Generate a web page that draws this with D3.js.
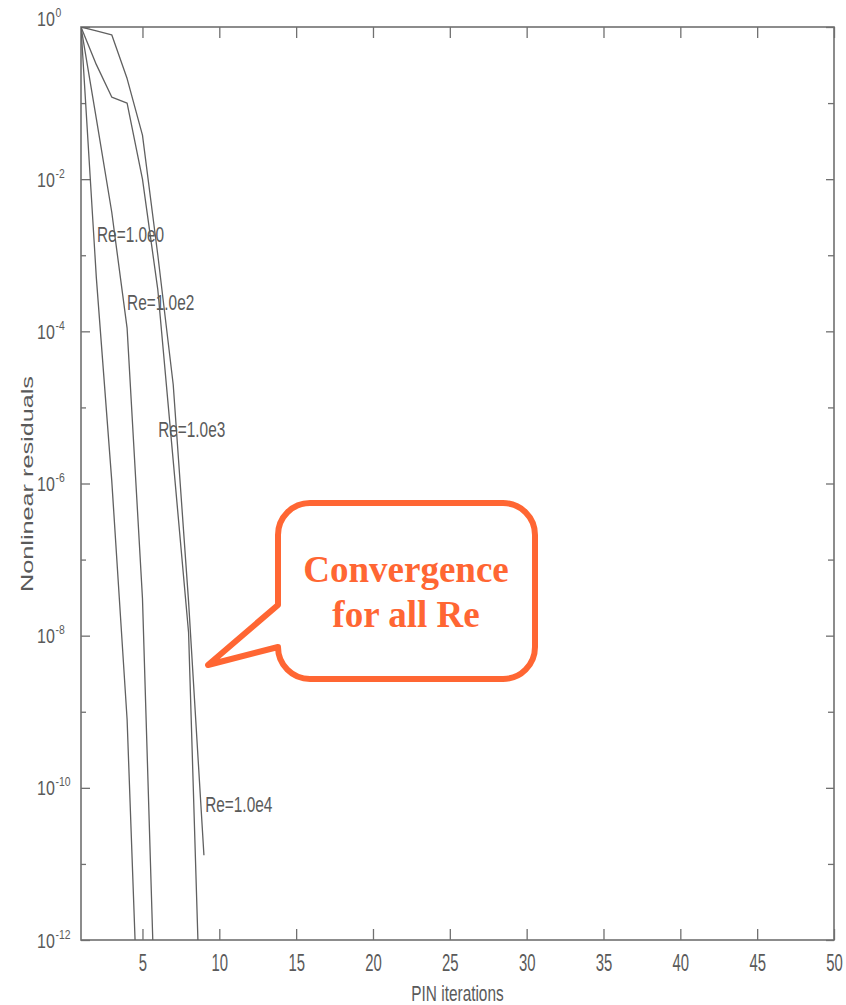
<!DOCTYPE html>
<html><head><meta charset="utf-8">
<script src="https://cdn.jsdelivr.net/npm/d3@7"></script>
<style>body{margin:0;background:#fff;} svg{display:block}</style>
</head><body>
<svg id="chart" width="846" height="1005"></svg>
<script>
// ---------------- data ----------------
const seriesNames = ["Re=1.0e0", "Re=1.0e2", "Re=1.0e3", "Re=1.0e4"];
const iterRe1e0 = [1, 2, 3, 4, 5];
const resRe1e0  = [1, 5.0e-4, 1.1e-6, 7.9e-10, 2.0e-15];
const iterRe1e2 = [1, 2, 3, 4, 5, 6];
const resRe1e2  = [1, 6.2e-2, 3.7e-3, 1.1e-4, 3.1e-8, 6.3e-15];
const iterRe1e3 = [1, 2, 3, 4, 5, 6, 7, 8, 9];
const resRe1e3  = [1, 3.2e-1, 1.2e-1, 1.0e-1, 1.0e-2, 3.5e-4, 2.0e-6, 1.1e-8, 2.5e-15];
const iterRe1e4 = [1, 2, 3, 4, 5, 6, 7, 8, 9];
const resRe1e4  = [1, 0.89, 0.79, 0.21, 3.8e-2, 1.0e-3, 2.0e-5, 2.8e-8, 1.3e-11];
// label anchors (iteration, residual)
const labelIter = [2.04, 4.0, 6.02, 9.08];
const labelRes  = [1.5e-3, 1.9e-4, 4.1e-6, 4.8e-11];
// ticks
const xTicks = [5, 10, 15, 20, 25, 30, 35, 40, 45, 50];
const yMajorTicks = [1e0, 1e-2, 1e-4, 1e-6, 1e-8, 1e-10, 1e-12];
const yMajorExp   = ["0", "-2", "-4", "-6", "-8", "-10", "-12"];
const yMinorTicks = [1e-1, 1e-3, 1e-5, 1e-7, 1e-9, 1e-11];
const xTitle = "PIN iterations";
const yTitle = "Nonlinear residuals";
const calloutLines = ["Convergence", "for all Re"];

// ---------------- layout ----------------
const W = 846, H = 1005;
const m = {left: 81, top: 27, right: 12, bottom: 65};
const iw = W - m.left - m.right, ih = H - m.top - m.bottom;
const axisColor = "#707070", lineColor = "#606060", textColor = "#5a5a5a";
const font = "'Liberation Sans', Arial, Helvetica, sans-serif";

const svg = d3.select("#chart");
const g = svg.append("g").attr("transform", `translate(${m.left},${m.top})`);

const x = d3.scaleLinear().domain([1, 50]).range([0, iw]);
const y = d3.scaleLog().domain([1e-12, 1]).range([ih, 0]);

svg.append("defs").append("clipPath").attr("id", "plotclip")
  .append("rect").attr("x", 0).attr("y", 0).attr("width", iw).attr("height", ih);

// ---------- axes ----------
function styleAxis(sel) {
  sel.select(".domain").remove();
  sel.selectAll(".tick line").attr("stroke", axisColor).attr("stroke-width", 1.3);
}
// bottom
const gx = g.append("g").attr("transform", `translate(0,${ih})`)
  .call(d3.axisBottom(x).tickValues(xTicks).tickSizeInner(-11).tickSizeOuter(0).tickPadding(15));
styleAxis(gx);
gx.selectAll(".tick text")
  .attr("fill", textColor).attr("font-family", font).attr("font-size", 24)
  .attr("transform", "scale(0.62,1)").attr("y", 14).attr("dy", "0.71em");
// top
const gt = g.append("g")
  .call(d3.axisTop(x).tickValues(xTicks).tickSizeInner(-11).tickSizeOuter(0).tickFormat(""));
styleAxis(gt);
// left major
const gy = g.append("g")
  .call(d3.axisLeft(y).tickValues(yMajorTicks).tickSizeInner(-9).tickSizeOuter(0).tickFormat(""));
styleAxis(gy);
gy.selectAll(".tick text").each(function(d, i) {
  const t = d3.select(this);
  const up = i === 0 ? -9 : 0;
  t.text(null).attr("x", null).attr("dy", null)
   .attr("text-anchor", "start").attr("fill", textColor).attr("font-family", font)
   .attr("transform", `translate(-44,${7 + up}) scale(0.8,1)`);
  t.append("tspan").attr("font-size", 20).text("10");
  t.append("tspan").attr("font-size", 13).attr("dy", -9).attr("dx", 1).text(yMajorExp[i]);
});
// left minor
const gym = g.append("g")
  .call(d3.axisLeft(y).tickValues(yMinorTicks).tickSizeInner(-5).tickSizeOuter(0).tickFormat(""));
styleAxis(gym);
// right major/minor
const gr = g.append("g").attr("transform", `translate(${iw},0)`)
  .call(d3.axisRight(y).tickValues(yMajorTicks).tickSizeInner(-8).tickSizeOuter(0).tickFormat(""));
styleAxis(gr);
const grm = g.append("g").attr("transform", `translate(${iw},0)`)
  .call(d3.axisRight(y).tickValues(yMinorTicks).tickSizeInner(-6).tickSizeOuter(0).tickFormat(""));
styleAxis(grm);

// frame
g.append("rect").attr("x", 0).attr("y", 0).attr("width", iw).attr("height", ih)
  .attr("fill", "none").attr("stroke", axisColor).attr("stroke-width", 1.6);

// ---------- series ----------
const series = [
  {name: seriesNames[0], it: iterRe1e0, v: resRe1e0},
  {name: seriesNames[1], it: iterRe1e2, v: resRe1e2},
  {name: seriesNames[2], it: iterRe1e3, v: resRe1e3},
  {name: seriesNames[3], it: iterRe1e4, v: resRe1e4}
];
const line = d3.line().x(d => x(d[0])).y(d => y(d[1]));
g.append("g").attr("clip-path", "url(#plotclip)")
  .selectAll("path").data(series).join("path")
  .attr("d", s => line(s.it.map((it, k) => [it, s.v[k]])))
  .attr("fill", "none").attr("stroke", lineColor).attr("stroke-width", 1.3)
  .attr("stroke-linejoin", "round");

// labels
g.selectAll("text.lab").data(series).join("text").attr("class", "lab")
  .attr("transform", (s, i) => `translate(${x(labelIter[i])},${y(labelRes[i])}) scale(0.7,1)`)
  .attr("font-family", font).attr("font-size", 22).attr("fill", textColor)
  .text(s => s.name);

// axis titles
svg.append("text").attr("transform", `translate(${m.left + x(25.5)},1001) scale(0.7,1)`)
  .attr("text-anchor", "middle").attr("font-family", font).attr("font-size", 22)
  .attr("fill", textColor).text(xTitle);
svg.append("text").attr("transform", `translate(33,484) rotate(-90)`)
  .attr("text-anchor", "middle").attr("font-family", font).attr("font-size", 17)
  .attr("textLength", 216).attr("lengthAdjust", "spacingAndGlyphs")
  .attr("fill", textColor).text(yTitle);

// ---------- callout ----------
const orange = "#FF6633";
const cb = {l: 278, t: 503, r: 535, b: 679, rad: 32, tipX: 208, tipY: 665, tailTop: 605, tailBot: 647};
const cp = `M${cb.l + cb.rad},${cb.t} H${cb.r - cb.rad} A${cb.rad},${cb.rad} 0 0 1 ${cb.r},${cb.t + cb.rad}
 V${cb.b - cb.rad} A${cb.rad},${cb.rad} 0 0 1 ${cb.r - cb.rad},${cb.b} H${cb.l + cb.rad}
 A${cb.rad},${cb.rad} 0 0 1 ${cb.l},${cb.tailBot} L${cb.tipX},${cb.tipY} L${cb.l},${cb.tailTop}
 V${cb.t + cb.rad} A${cb.rad},${cb.rad} 0 0 1 ${cb.l + cb.rad},${cb.t} Z`;
svg.append("path").attr("d", cp).attr("fill", "#fff").attr("stroke", orange)
  .attr("stroke-width", 6).attr("stroke-linejoin", "round");
svg.selectAll("text.call").data(calloutLines).join("text").attr("class", "call")
  .attr("x", 406).attr("y", (d, i) => 582 + i * 45)
  .attr("text-anchor", "middle").attr("font-family", "'Liberation Serif', 'Times New Roman', serif")
  .attr("font-weight", "bold").attr("font-size", 37).attr("fill", orange).text(d => d);
</script>
</body></html>
